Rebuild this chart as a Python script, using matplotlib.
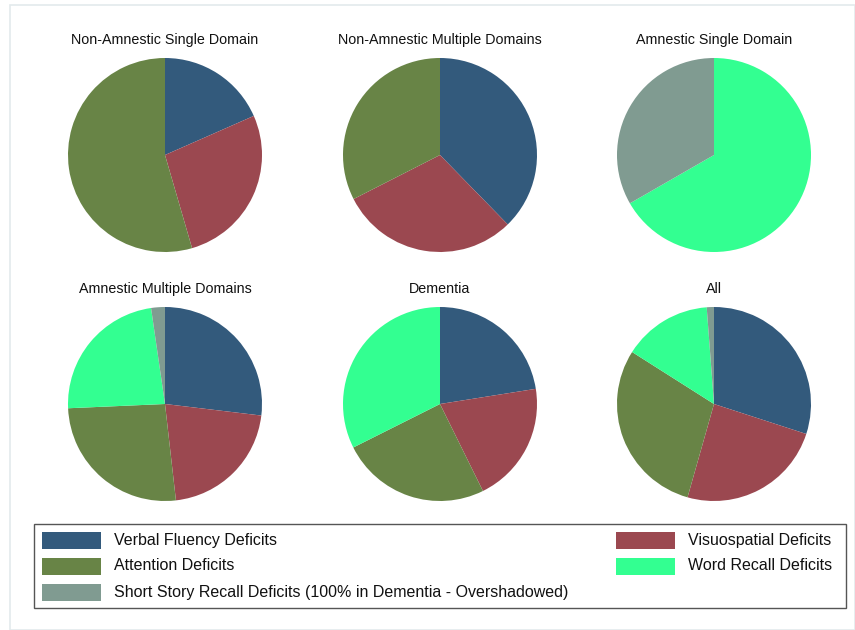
import matplotlib
matplotlib.use('Agg')
import matplotlib.pyplot as plt
from matplotlib.patches import Rectangle

plt.rcParams['font.family'] = ['Liberation Sans', 'DejaVu Sans']

# slice order (clockwise from 12 o'clock): verbal, visuospatial, attention, word recall, short story
groups = ['Non-Amnestic Single Domain', 'Non-Amnestic Multiple Domains', 'Amnestic Single Domain',
          'Amnestic Multiple Domains', 'Dementia', 'All']
verbal = [18.4, 37.7, 0, 26.9, 22.5, 30.0]
visuo = [27.1, 29.8, 0, 21.3, 20.2, 24.4]
attention = [54.5, 32.5, 0, 26.1, 24.9, 29.6]
word_recall = [0, 0, 66.7, 23.4, 32.4, 14.8]
short_story = [0, 0, 33.3, 2.3, 0, 1.2]

colors = {'verbal': '#335a7c', 'visuo': '#9b4850', 'attention': '#688446',
          'word': '#33ff91', 'story': '#809b91'}
legend_left = [('Verbal Fluency Deficits', colors['verbal']),
               ('Attention Deficits', colors['attention']),
               ('Short Story Recall Deficits (100% in Dementia - Overshadowed)', colors['story'])]
legend_right = [('Visuospatial Deficits', colors['visuo']),
                ('Word Recall Deficits', colors['word'])]

W, H = 855, 630
fig = plt.figure(figsize=(W / 100, H / 100), dpi=100)
fig.patches.append(Rectangle((10 / W, 0), (W - 10) / W, (H - 5) / H, transform=fig.transFigure,
                             facecolor='white', edgecolor='#e3eaec', lw=1.2, zorder=-10))

centers = [(165, 155), (440, 155), (714, 155), (165, 404), (440, 404), (714, 404)]
r = 97
pie_cols = [colors['verbal'], colors['visuo'], colors['attention'], colors['word'], colors['story']]
for i, (cx, cy) in enumerate(centers):
    ax = fig.add_axes([(cx - r) / W, (H - cy - r) / H, 2 * r / W, 2 * r / H])
    vals = [verbal[i], visuo[i], attention[i], word_recall[i], short_story[i]]
    ax.pie(vals, colors=pie_cols, startangle=90, counterclock=False, radius=1,
           wedgeprops={'linewidth': 0})
    ax.set_xlim(-1, 1)
    ax.set_ylim(-1, 1)
    ax.axis('off')
    fig.text(cx / W, (H - cy + r + 14) / H, groups[i], ha='center', va='baseline',
             fontsize=10.3, color='#111111')

# legend box
fig.patches.append(Rectangle((34 / W, (H - 608) / H), (846 - 34) / W, (608 - 524) / H,
                             transform=fig.transFigure, facecolor='white',
                             edgecolor='#555555', lw=1))
row_y = [540, 566, 592]
for (lab, c), y in zip(legend_left, row_y):
    fig.patches.append(Rectangle((42 / W, (H - y - 8.5) / H), 59 / W, 17 / H,
                                 transform=fig.transFigure, facecolor=c, lw=0))
    fig.text(114 / W, (H - y) / H, lab, ha='left', va='center', fontsize=11.5, color='#111111')
for (lab, c), y in zip(legend_right, row_y):
    fig.patches.append(Rectangle((616 / W, (H - y - 8.5) / H), 59 / W, 17 / H,
                                 transform=fig.transFigure, facecolor=c, lw=0))
    fig.text(688 / W, (H - y) / H, lab, ha='left', va='center', fontsize=11.5, color='#111111')

fig.savefig('out.png', dpi=100)
